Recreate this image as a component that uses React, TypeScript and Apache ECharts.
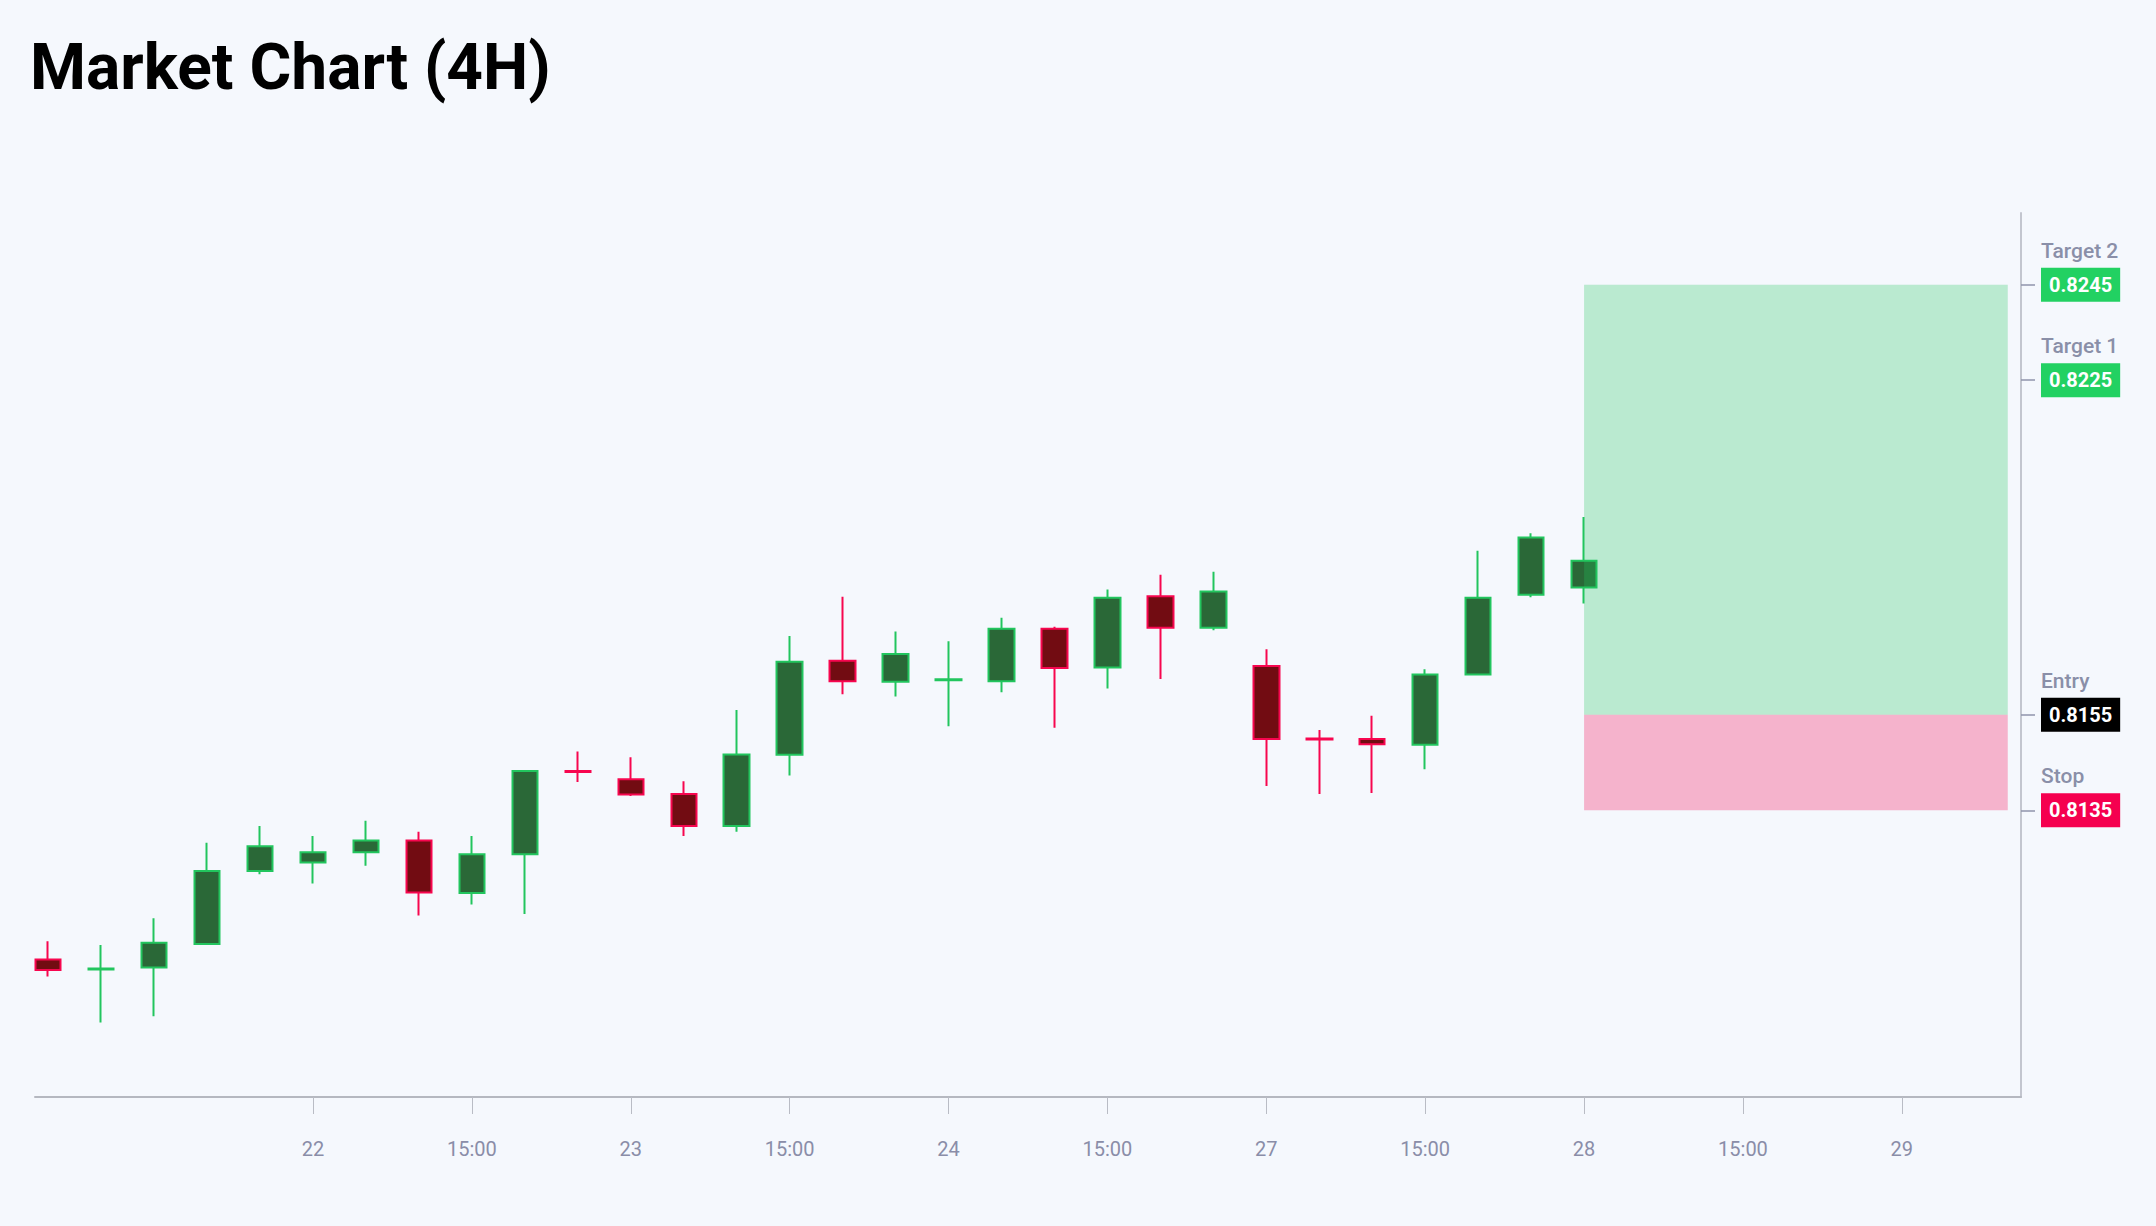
import React, { useEffect, useRef } from "react";
import * as echarts from "echarts";

const opens = [0.81038, 0.81017, 0.81021, 0.81070, 0.81223, 0.81241, 0.81262, 0.81287, 0.81177, 0.81258, 0.81432, 0.81415, 0.81384, 0.81317, 0.81466, 0.81663, 0.81619, 0.81622, 0.81620, 0.81730, 0.81649, 0.81798, 0.81732, 0.81652, 0.81500, 0.81499, 0.81487, 0.81634, 0.81801, 0.81816];
const closes = [0.81016, 0.81019, 0.81073, 0.81223, 0.81275, 0.81262, 0.81287, 0.81178, 0.81258, 0.81432, 0.81430, 0.81383, 0.81317, 0.81467, 0.81661, 0.81620, 0.81677, 0.81624, 0.81730, 0.81648, 0.81795, 0.81732, 0.81808, 0.81499, 0.81498, 0.81488, 0.81634, 0.81795, 0.81921, 0.81872];
const lows = [0.81002, 0.80906, 0.80919, 0.81068, 0.81216, 0.81197, 0.81234, 0.81130, 0.81153, 0.81133, 0.81409, 0.81380, 0.81296, 0.81305, 0.81423, 0.81593, 0.81588, 0.81526, 0.81597, 0.81523, 0.81605, 0.81625, 0.81727, 0.81401, 0.81384, 0.81386, 0.81436, 0.81632, 0.81796, 0.81783];
const highs = [0.81076, 0.81068, 0.81124, 0.81282, 0.81317, 0.81296, 0.81328, 0.81305, 0.81296, 0.81433, 0.81473, 0.81461, 0.81411, 0.81560, 0.81715, 0.81797, 0.81724, 0.81704, 0.81753, 0.81734, 0.81812, 0.81843, 0.81849, 0.81687, 0.81518, 0.81548, 0.81645, 0.81893, 0.81930, 0.81964];

const tickIndices = [5, 8, 11, 14, 17, 20, 23, 26, 29, 32, 35];
const tickLabels = ["22", "15:00", "23", "15:00", "24", "15:00", "27", "15:00", "28", "15:00", "29"];

const levelValues = [0.8245, 0.8225, 0.8155, 0.8135];
const levelNames = ["Target 2", "Target 1", "Entry", "Stop"];
const levelStyles = ["g", "g", "k", "r"];

const zoneStart = 29;
const zoneEnd = 37;
const entry = 0.8155;
const stop = 0.8135;
const target2 = 0.8245;

const BG = "#f5f8fd";

export default function App() {
  const ref = useRef<HTMLDivElement>(null);
  useEffect(() => {
    const chart = echarts.init(ref.current!, null, { renderer: "svg" });
    const candleData = opens.map((o, i) => [i, o, closes[i], lows[i], highs[i]]);
    const zones = [
      [zoneStart, zoneEnd, entry, target2],
      [zoneStart, zoneEnd, stop, entry],
    ];
    const zoneColors = ["rgba(34,197,94,0.28)", "rgba(245,0,80,0.28)"];
    const font = "Roboto";
    const badge = (bg: string) => ({
      fontSize: 20,
      fontWeight: "bold",
      color: "#fff",
      backgroundColor: bg,
      padding: [0, 8, 0, 8],
      lineHeight: 34,
      height: 34,
      fontFamily: font,
    });
    chart.setOption({
      animation: false,
      backgroundColor: BG,
      title: {
        text: "Market Chart (4H)",
        left: 25,
        top: 30,
        textStyle: { fontSize: 64, fontWeight: "bold", color: "#000", fontFamily: font },
      },
      grid: { left: 35, right: 135, top: 213, bottom: 129, containLabel: false },
      xAxis: {
        type: "value",
        min: -0.25,
        max: 37.25,
        splitLine: { show: false },
        axisLine: { show: true, onZero: false, lineStyle: { color: "#b5b8c0", width: 2 } },
        axisTick: {
          show: true,
          length: 17,
          customValues: tickIndices,
          lineStyle: { color: "#b9bcc5", width: 1 },
        },
        axisLabel: {
          customValues: tickIndices,
          margin: 42,
          fontSize: 20,
          color: "#8a8da8",
          fontFamily: font,
          formatter: (v: number) => {
            const k = tickIndices.findIndex((t) => Math.abs(t - v) < 1e-6);
            return k >= 0 ? tickLabels[k] : "";
          },
        },
      },
      yAxis: {
        type: "value",
        position: "right",
        min: 0.8075,
        max: 0.826,
        scale: true,
        splitLine: { show: false },
        axisLine: { show: true, onZero: false, lineStyle: { color: "#c3c6cf", width: 2 } },
        axisTick: {
          show: true,
          length: 14,
          customValues: levelValues,
          lineStyle: { color: "#8f94ab", width: 1.5 },
        },
        axisLabel: {
          customValues: levelValues,
          margin: 20,
          fontFamily: font,
          formatter: (v: number) => {
            const k = levelValues.findIndex((t) => Math.abs(t - v) < 1e-7);
            if (k < 0) return "";
            return `{name|${levelNames[k]}}\n{${levelStyles[k]}|${levelValues[k].toFixed(4)}}\n{sp| }`;
          },
          rich: {
            name: { fontSize: 21, fontWeight: 500, color: "#8a8fa8", lineHeight: 34, fontFamily: font },
            g: badge("#22d162"),
            k: badge("#000000"),
            r: badge("#f5004f"),
            sp: { fontSize: 20, lineHeight: 34 },
          },
        },
      },
      series: [
        {
          type: "candlestick",
          data: candleData,
          encode: { x: 0, y: [1, 2, 3, 4] },
          barWidth: 26,
          z: 2,
          itemStyle: {
            color: "#2a6837",
            color0: "#720c12",
            borderColor: "#22c55e",
            borderColor0: "#f7064f",
            borderWidth: 2,
          },
        },
        {
          type: "custom",
          z: 5,
          silent: true,
          data: zones,
          encode: { x: [0, 1], y: [2, 3] },
          renderItem: (params: any, api: any) => {
            const p0 = api.coord([api.value(0), api.value(3)]);
            const p1 = api.coord([api.value(1), api.value(2)]);
            return {
              type: "rect",
              shape: { x: p0[0], y: p0[1], width: p1[0] - p0[0], height: p1[1] - p0[1] },
              style: { fill: zoneColors[params.dataIndex] },
            };
          },
        },
      ],
    });
    return () => chart.dispose();
  }, []);
  return (
    <div
      ref={ref}
      style={{ position: "fixed", left: 0, top: 0, width: "100vw", height: "100vh", background: BG }}
    />
  );
}
